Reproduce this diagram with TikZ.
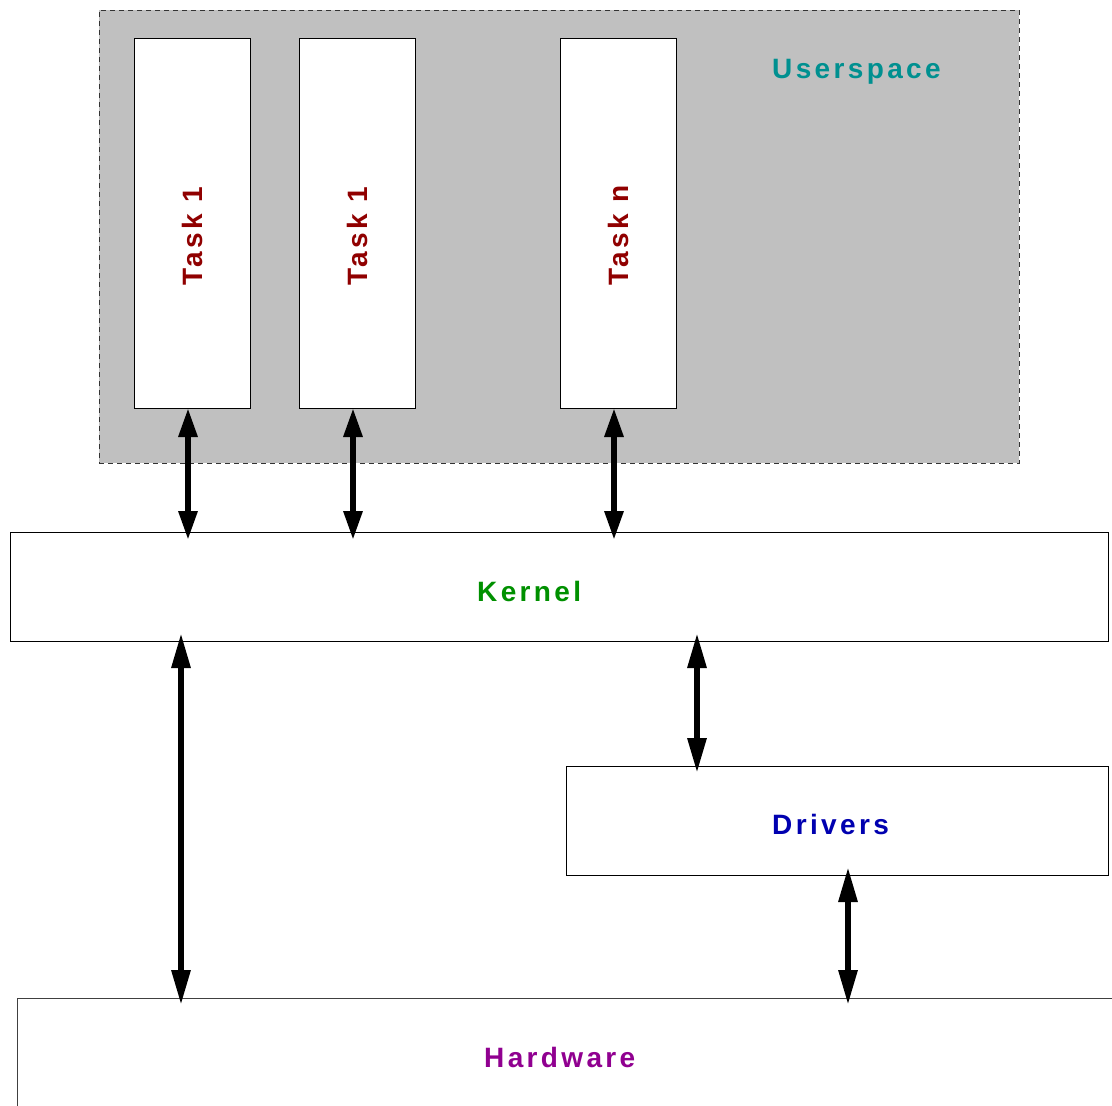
\documentclass[tikz,border=0pt]{standalone}
\usepackage{fontspec}
\setmainfont{Liberation Sans}
\newfontfamily\lblfont{Liberation Sans}[LetterSpace=12]
\usetikzlibrary{arrows.meta}
\definecolor{usergray}{RGB}{192,192,192}
\definecolor{usercol}{RGB}{0,144,144}
\definecolor{kernelcol}{RGB}{0,144,0}
\definecolor{drivercol}{RGB}{0,0,176}
\definecolor{hwcol}{RGB}{144,0,144}
\definecolor{taskcol}{RGB}{144,0,0}
\begin{document}
\begin{tikzpicture}[x=1pt,y=-1pt,
  box/.style={draw=black, line width=1pt, fill=white, inner sep=0pt, outer sep=0pt, anchor=north west},
  lbl/.style={font=\lblfont\bfseries\fontsize{28}{34}\selectfont, inner sep=0pt, anchor=base west},
  arrs/.style={line width=6pt, {Triangle[length=29pt,width=18pt]}-{Triangle[length=29pt,width=18pt]}},
  arrl/.style={line width=6pt, {Triangle[length=35pt,width=18pt]}-{Triangle[length=35pt,width=18pt]}},
]
\useasboundingbox (0,0) rectangle (1112,1106);
\clip (0,0) rectangle (1112,1106);
\fill[white] (0,0) rectangle (1112,1106);

% userspace area
\node[draw=black!80, line width=0.9pt, dash pattern=on 5pt off 4pt, fill=usergray,
      minimum width=920pt, minimum height=453pt, inner sep=0pt, outer sep=0pt,
      anchor=north west] (user) at (99,10) {};
\node[lbl, text=usercol] (userlbl) at (772,78) {Userspace};

% tasks
\node[box, minimum width=116pt, minimum height=370pt] (t1) at (134,38) {};
\node[box, minimum width=116pt, minimum height=370pt] (t2) at (299,38) {};
\node[box, minimum width=116pt, minimum height=370pt] (tn) at (560,38) {};
\node[lbl, text=taskcol, rotate=90] (t1lbl) at (202,286) {Task 1};
\node[lbl, text=taskcol, rotate=90] (t2lbl) at (367,286) {Task 1};
\node[lbl, text=taskcol, rotate=90] (tnlbl) at (628,286) {Task n};

% kernel, drivers, hardware
\node[box, minimum width=1098pt, minimum height=109pt] (kernel) at (10,532) {};
\node[lbl, text=kernelcol] (klbl) at (477,601) {Kernel};
\node[box, minimum width=542pt, minimum height=109pt] (drv) at (566,766) {};
\node[lbl, text=drivercol] (dlbl) at (772,834) {Drivers};
\node[box, draw=black!75, minimum width=1100pt, minimum height=120pt] (hw) at (17,998) {};
\node[lbl, text=hwcol] (hlbl) at (484,1067) {Hardware};

% arrows tasks <-> kernel
\draw[arrs] ([xshift=-4pt]t1.south) -- ([xshift=-4pt,yshift=-8pt]t1.south |- kernel.north);
\draw[arrs] ([xshift=-4pt]t2.south) -- ([xshift=-4pt,yshift=-8pt]t2.south |- kernel.north);
\draw[arrs] ([xshift=-4pt]tn.south) -- ([xshift=-4pt,yshift=-8pt]tn.south |- kernel.north);

% kernel <-> hardware
\draw[arrl] ([xshift=171pt,yshift=8pt]kernel.south west) -- ([xshift=164pt,yshift=-7pt]hw.north west);
% kernel <-> drivers
\draw[arrl] ([xshift=687pt,yshift=8pt]kernel.south west) -- ([xshift=131pt,yshift=-7pt]drv.north west);
% drivers <-> hardware
\draw[arrl] ([xshift=282pt,yshift=8pt]drv.south west) -- ([xshift=831pt,yshift=-7pt]hw.north west);
\end{tikzpicture}
\end{document}
